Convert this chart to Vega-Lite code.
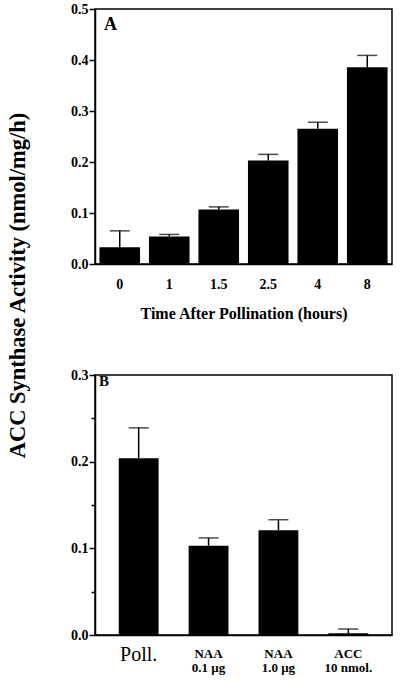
{
  "$schema": "https://vega.github.io/schema/vega-lite/v6.json",
  "background": "white",
  "padding": {"left": 5, "top": 1, "right": 8, "bottom": 2},
  "spacing": 111,
  "bounds": "flush",
  "config": {
    "font": "Liberation Serif",
    "view": {"stroke": "black", "strokeWidth": 1.5},
    "axis": {
      "domainColor": "black", "tickColor": "black", "labelColor": "black", "titleColor": "black",
      "labelFont": "Liberation Serif", "titleFont": "Liberation Serif",
      "labelFontWeight": "bold", "titleFontWeight": "bold",
      "grid": false, "domainWidth": 1.5, "tickWidth": 1.5
    },
    "title": {"font": "Liberation Serif", "color": "black"}
  },
  "datasets": {
    "timecourse": [
      {"time": "0", "activity": 0.033, "upper": 0.065},
      {"time": "1", "activity": 0.054, "upper": 0.058},
      {"time": "1.5", "activity": 0.107, "upper": 0.112},
      {"time": "2.5", "activity": 0.203, "upper": 0.215},
      {"time": "4", "activity": 0.265, "upper": 0.278},
      {"time": "8", "activity": 0.386, "upper": 0.409}
    ],
    "treatments": [
      {"treatment": "Poll.", "activity": 0.204, "upper": 0.239},
      {"treatment": "NAA 0.1 μg", "activity": 0.103, "upper": 0.112},
      {"treatment": "NAA 1.0 μg", "activity": 0.121, "upper": 0.133},
      {"treatment": "ACC 10 nmol.", "activity": 0.002, "upper": 0.007}
    ]
  },
  "vconcat": [
    {
      "width": 297,
      "height": 255,
      "data": {"name": "timecourse"},
      "title": {"text": "A", "anchor": "start", "frame": "group", "orient": "top", "offset": -23, "dy": 23, "dx": 9, "fontSize": 18, "fontWeight": "bold", "baseline": "alphabetic"},
      "encoding": {
        "x": {
          "field": "time", "type": "ordinal", "sort": null,
          "scale": {"paddingInner": 0.18, "paddingOuter": 0.09},
          "axis": {"title": "Time After Pollination (hours)", "labelAngle": 0, "ticks": false, "labelPadding": 13, "labelFontSize": 14, "titleFontSize": 16, "titlePadding": 14}
        }
      },
      "layer": [
        {
          "mark": {"type": "bar", "color": "black"},
          "encoding": {
            "y": {
              "field": "activity", "type": "quantitative",
              "scale": {"domain": [0, 0.5], "nice": false},
              "axis": {
                "title": "ACC Synthase Activity (nmol/mg/h)",
                "values": [0, 0.1, 0.2, 0.3, 0.4, 0.5], "format": ".1f",
                "labelFontSize": 14, "tickSize": 6, "labelPadding": 1,
                "titleFontSize": 22.5, "titleAngle": 270, "titleX": -78, "titleY": 276,
                "titleAlign": "center", "titleBaseline": "middle"
              }
            }
          }
        },
        {
          "mark": {"type": "rule", "color": "black", "strokeWidth": 1.5},
          "encoding": {
            "y": {"field": "activity", "type": "quantitative"},
            "y2": {"field": "upper"}
          }
        },
        {
          "mark": {"type": "tick", "color": "black", "thickness": 1.5, "size": 20},
          "encoding": {
            "y": {"field": "upper", "type": "quantitative"}
          }
        }
      ]
    },
    {
      "width": 297,
      "height": 260,
      "data": {"name": "treatments"},
      "title": {"text": "B", "anchor": "start", "frame": "group", "orient": "top", "offset": -15, "dy": 18, "dx": 4, "fontSize": 15, "fontWeight": "bold", "baseline": "alphabetic"},
      "encoding": {
        "x": {
          "field": "treatment", "type": "nominal", "sort": null,
          "scale": {"paddingInner": 0.43, "paddingOuter": 0.34},
          "axis": {
            "title": null, "labelAngle": 0, "ticks": false,
            "labelBaseline": "top", "labelLineHeight": 14,
            "labelPadding": {"condition": {"test": "datum.value == 'Poll.'", "value": 9}, "value": 12},
            "labelExpr": "datum.label == 'Poll.' ? datum.label : [slice(datum.label, 0, 3), slice(datum.label, 4)]",
            "labelFontSize": {"condition": {"test": "datum.value == 'Poll.'", "value": 20}, "value": 13},
            "labelFontWeight": {"condition": {"test": "datum.value == 'Poll.'", "value": "normal"}, "value": "bold"}
          }
        }
      },
      "layer": [
        {
          "mark": {"type": "bar", "color": "black"},
          "encoding": {
            "y": {
              "field": "activity", "type": "quantitative",
              "scale": {"domain": [0, 0.3], "nice": false},
              "axis": {
                "title": null,
                "values": [0, 0.05, 0.1, 0.15, 0.2, 0.25, 0.3],
                "labelExpr": "round(datum.value * 20) % 2 == 0 ? format(datum.value, '.1f') : ''",
                "labelFontSize": 14, "labelPadding": 1,
                "tickSize": {"condition": {"test": "round(datum.value * 20) % 2 == 0", "value": 6}, "value": 4}
              }
            }
          }
        },
        {
          "mark": {"type": "rule", "color": "black", "strokeWidth": 1.5},
          "encoding": {
            "y": {"field": "activity", "type": "quantitative"},
            "y2": {"field": "upper"}
          }
        },
        {
          "mark": {"type": "tick", "color": "black", "thickness": 1.5, "size": 20},
          "encoding": {
            "y": {"field": "upper", "type": "quantitative"}
          }
        }
      ]
    }
  ]
}
